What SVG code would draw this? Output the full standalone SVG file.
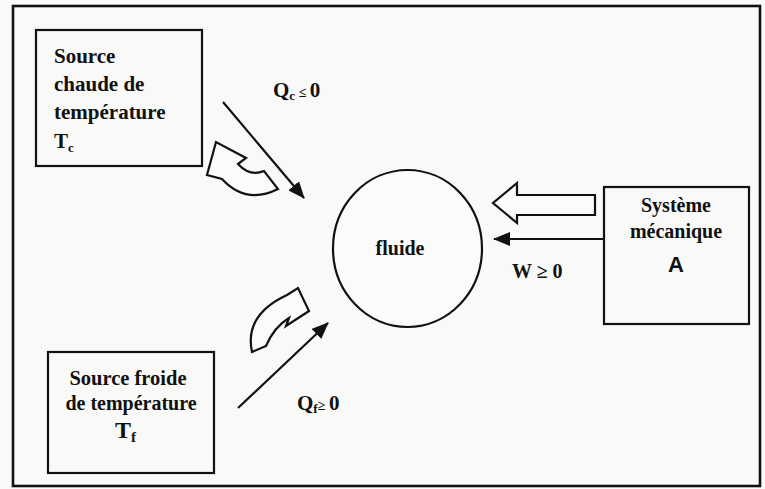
<svg xmlns="http://www.w3.org/2000/svg" width="765" height="489" viewBox="0 0 765 489">
<style>
.box{fill:none;stroke:#111;stroke-width:2.2}
.t{font-family:"Liberation Serif","Times New Roman",serif;font-weight:bold;font-size:21px;fill:#111}
.s{font-size:13px}
.ln{stroke:#111;stroke-width:2.2;fill:none}
.hollow{fill:#fbfbfa;stroke:#111;stroke-width:2.2;stroke-linejoin:miter}
</style>
<defs>
<marker id="ah" markerUnits="userSpaceOnUse" markerWidth="18" markerHeight="14" refX="16" refY="7" orient="auto">
<path d="M0,0 L17,7 L0,14 Z" fill="#111"/>
</marker>
</defs>
<rect x="0" y="0" width="765" height="489" fill="#fafaf8"/>
<rect x="13" y="6" width="747" height="480" fill="#f9f9f7" stroke="#111" stroke-width="2.6"/>

<g id="source-chaude">
<rect class="box" x="36" y="30" width="166" height="136" fill="#fbfbfa"/>
<text class="t" x="54" y="63">Source</text>
<text class="t" x="54" y="91">chaude de</text>
<text class="t" x="54" y="119">température</text>
<text class="t" x="54" y="148">T<tspan class="s" dy="4">c</tspan></text>
</g>

<g id="source-froide">
<rect class="box" x="48" y="352" width="166" height="121" fill="#fbfbfa"/>
<text class="t" x="128" y="385" text-anchor="middle" style="font-size:20.5px">Source froide</text>
<text class="t" x="131" y="410" text-anchor="middle" style="font-size:20px">de température</text>
<text class="t" x="115" y="438" style="font-size:24px">T<tspan class="s" dy="4" style="font-size:15px">f</tspan></text>
</g>

<g id="fluide">
<ellipse cx="407.5" cy="248.5" rx="74.5" ry="78.5" fill="#fbfbfa" stroke="#111" stroke-width="2.2"/>
<text class="t" x="400" y="255" text-anchor="middle" style="font-size:20px">fluide</text>
</g>

<g id="systeme-mecanique">
<rect class="box" x="604" y="187" width="145" height="137" fill="#fbfbfa"/>
<text class="t" x="676" y="212" text-anchor="middle" style="font-size:20px">Système</text>
<text class="t" x="676" y="238" text-anchor="middle" style="font-size:20px">mécanique</text>
<text x="676" y="272" text-anchor="middle" style="font-family:'Liberation Sans',Arial,sans-serif;font-weight:bold;font-size:22px;fill:#111">A</text>
</g>

<g id="connectors">
<line class="ln" x1="223" y1="102" x2="304" y2="198" marker-end="url(#ah)"/>
<line class="ln" x1="238" y1="408" x2="328" y2="323" marker-end="url(#ah)"/>
<line class="ln" x1="603" y1="239" x2="494" y2="239" marker-end="url(#ah)"/>
<path class="hollow" d="M595,195 L517,195 L517,183 L493,203 L517,223 L517,215 L595,215 Z"/>
<path class="hollow" d="M278,189 Q246,205 222,179 L207,175 L216,142 L246,158 L238,164 Q250,177 264,171 Z"/>
<path class="hollow" d="M252,352 Q244,315 287,295 L298,288 L309,311 L286,326 L289,318 Q274,327 266,346 Z"/>
<text class="t" x="273" y="97">Q<tspan class="s" dy="3">c</tspan><tspan dy="-3" style="font-size:14px"> ≤ </tspan>0</text>
<text class="t" x="297" y="410">Q<tspan class="s" dy="3">f</tspan><tspan dy="-3" style="font-size:14px">≥ </tspan>0</text>
<text class="t" x="512" y="278" style="font-size:20px">W ≥ 0</text>
</g>
</svg>
